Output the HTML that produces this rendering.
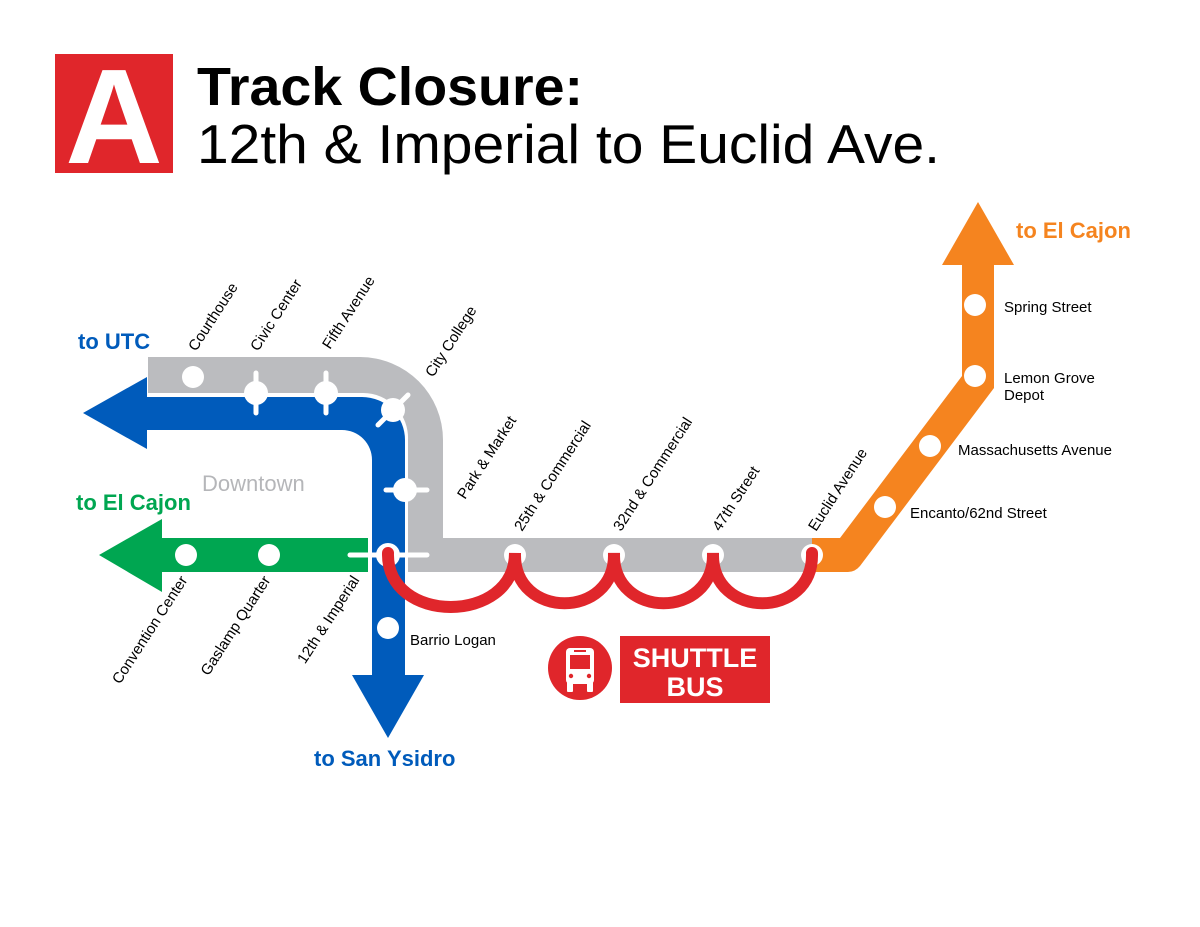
<!DOCTYPE html>
<html><head><meta charset="utf-8"><style>
html,body{margin:0;padding:0;background:#fff;}
svg{display:block;font-family:"Liberation Sans",Arial,sans-serif;}
</style></head><body>
<svg width="1200" height="927" viewBox="0 0 1200 927" xmlns="http://www.w3.org/2000/svg">
<rect width="1200" height="927" fill="#fff"/>
<rect x="55" y="54" width="118" height="119" fill="#e0262b"/>
<text x="114" y="163" font-size="135" font-weight="bold" fill="#fff" text-anchor="middle">A</text>
<text x="197" y="105" font-size="54" font-weight="bold" fill="#000" textLength="386" lengthAdjust="spacingAndGlyphs">Track Closure:</text>
<text x="197" y="163" font-size="55" fill="#000" textLength="743" lengthAdjust="spacingAndGlyphs">12th &amp; Imperial to Euclid Ave.</text>

<path d="M148,357 L360,357 A83,83 0 0 1 443,440 L443,538 L820,538 L820,572 L408,572 L408,440 A45,45 0 0 0 363,393 L148,393 Z" fill="#bbbcbf"/>
<path d="M812,538 L840,538 L962,376 L962,265 L942,265 L978,202 L1014,265 L994,265 L994,388 L860,566 Q855,572 848,572 L812,572 Z" fill="#f5841f"/>
<path d="M147,397 L362,397 A43,43 0 0 1 405,440 L405,675 L424,675 L388,738 L352,675 L372,675 L372,460 A30,30 0 0 0 342,430 L147,430 L147,449 L83,413 L147,377 Z" fill="#005bbb"/>
<path d="M162,538 L368,538 L368,572 L162,572 L162,592 L99,555 L162,519 Z" fill="#00a651"/>

<g stroke="#fff" stroke-width="5" stroke-linecap="round">
<line x1="256" y1="373" x2="256" y2="413"/>
<line x1="326" y1="373" x2="326" y2="413"/>
<line x1="378" y1="425" x2="408" y2="395"/>
<line x1="386" y1="490" x2="427" y2="490"/>
<line x1="350" y1="555" x2="427" y2="555"/>
</g>
<g fill="#fff">
<circle cx="193" cy="377" r="11"/>
<circle cx="256" cy="393" r="12"/>
<circle cx="326" cy="393" r="12"/>
<circle cx="393" cy="410" r="12"/>
<circle cx="405" cy="490" r="12"/>
<circle cx="388" cy="555" r="12"/>
<circle cx="186" cy="555" r="11"/>
<circle cx="269" cy="555" r="11"/>
<circle cx="388" cy="628" r="11"/>
<circle cx="515" cy="555" r="11"/>
<circle cx="614" cy="555" r="11"/>
<circle cx="713" cy="555" r="11"/>
<circle cx="812" cy="555" r="11"/>
<circle cx="975" cy="305" r="11"/>
<circle cx="975" cy="376" r="11"/>
<circle cx="930" cy="446" r="11"/>
<circle cx="885" cy="507" r="11"/>
</g>
<path d="M388,553 C386,625 515,625 515,553 C513,620 616,620 614,553 C612,620 715,620 713,553 C711,620 814,620 812,553" fill="none" stroke="#e0262b" stroke-width="12" stroke-linecap="round"/>

<circle cx="580" cy="668" r="32" fill="#e0262b"/>
<g fill="#fff">
<rect x="566" y="648" width="28" height="36" rx="4"/>
<rect x="567" y="682" width="6" height="10" rx="1"/>
<rect x="587" y="682" width="6" height="10" rx="1"/>
</g>
<rect x="570" y="655" width="20" height="14" fill="#e0262b"/>
<rect x="574" y="650" width="12" height="2" fill="#e0262b"/>
<circle cx="571" cy="676" r="2.2" fill="#e0262b"/>
<circle cx="589" cy="676" r="2.2" fill="#e0262b"/>
<rect x="620" y="636" width="150" height="67" fill="#e0262b"/>
<text x="695" y="667" font-size="27" font-weight="bold" fill="#fff" text-anchor="middle">SHUTTLE</text>
<text x="695" y="696" font-size="27" font-weight="bold" fill="#fff" text-anchor="middle">BUS</text>

<text x="78" y="349" font-size="22" font-weight="bold" fill="#005bbb">to UTC</text>
<text x="76" y="510" font-size="22" font-weight="bold" fill="#00a651">to El Cajon</text>
<text x="314" y="766" font-size="22" font-weight="bold" fill="#005bbb">to San Ysidro</text>
<text x="1016" y="238" font-size="22" font-weight="bold" fill="#f5841f">to El Cajon</text>
<text x="202" y="491" font-size="22" fill="#b5b6b9">Downtown</text>

<g font-size="15" fill="#000">
<text transform="translate(196,352) rotate(-57)">Courthouse</text>
<text transform="translate(258,352) rotate(-57)">Civic Center</text>
<text transform="translate(330,350) rotate(-57)">Fifth Avenue</text>
<text transform="translate(433,378) rotate(-57)">City College</text>
<text transform="translate(465,500) rotate(-57)">Park &amp; Market</text>
<text transform="translate(522,532) rotate(-57)">25th &amp; Commercial</text>
<text transform="translate(621,532) rotate(-57)">32nd &amp; Commercial</text>
<text transform="translate(720,532) rotate(-57)">47th Street</text>
<text transform="translate(816,532) rotate(-57)">Euclid Avenue</text>
<text text-anchor="end" transform="translate(188,580) rotate(-57)">Convention Center</text>
<text text-anchor="end" transform="translate(271,580) rotate(-57)">Gaslamp Quarter</text>
<text text-anchor="end" transform="translate(360,580) rotate(-57)">12th &amp; Imperial</text>
<text x="410" y="645">Barrio Logan</text>
<text x="1004" y="312">Spring Street</text>
<text x="1004" y="383">Lemon Grove</text>
<text x="1004" y="400">Depot</text>
<text x="958" y="455">Massachusetts Avenue</text>
<text x="910" y="518">Encanto/62nd Street</text>
</g>
</svg>
</body></html>
